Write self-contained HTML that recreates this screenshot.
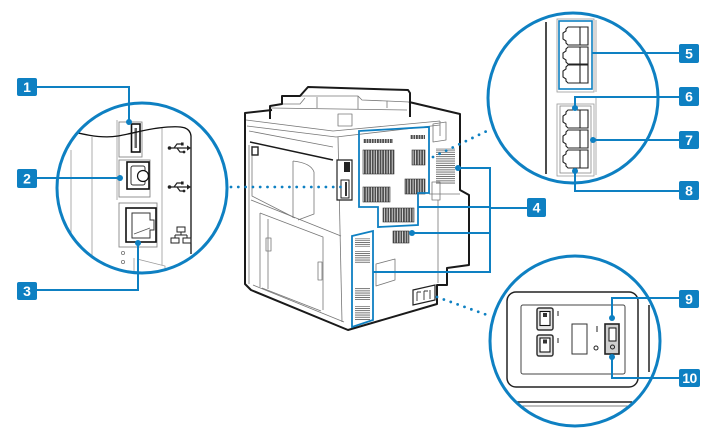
<!DOCTYPE html>
<html><head><meta charset="utf-8">
<style>
html,body{margin:0;padding:0;background:#fff;}
svg{display:block}
.lb{font-family:"Liberation Sans",sans-serif;font-size:14px;font-weight:bold;fill:#fff;text-anchor:middle;}
</style></head><body>
<svg width="711" height="438" viewBox="0 0 711 438" xmlns="http://www.w3.org/2000/svg">
<defs>
 <clipPath id="c1"><circle cx="142" cy="188" r="84"/></clipPath>
 <clipPath id="c2"><circle cx="573" cy="98" r="84"/></clipPath>
 <clipPath id="c3"><circle cx="575" cy="341" r="84"/></clipPath>
 <pattern id="vb" width="2.6" height="6" patternUnits="userSpaceOnUse"><rect width="1.9" height="6" fill="#4d4d4d"/></pattern>
 <pattern id="hb" width="6" height="2.2" patternUnits="userSpaceOnUse"><rect width="6" height="0.9" fill="#666"/></pattern>
</defs>
<rect width="711" height="438" fill="#fff"/>

<!-- ===== PRINTER ===== -->
<g fill="none" stroke="#777" stroke-width="0.8" stroke-linejoin="round">
 <path d="M246,120 L333,131 L440,121"/>
 <path d="M247,126 L336,137 L440,125"/>
 <path d="M440,121 V136"/>
 <path d="M433,124 L446,122 V140 L433,142 Z"/>
 <path d="M282,104 L300,104 L305,98"/>
 <path d="M300,96 L358,96 L362,100 L387,101 L387,108"/>
 <path d="M271,108 L407,110"/>
 <path d="M317,97 V108 M358,96 V109"/>
 <path d="M387,101 L409,102"/>
 <path d="M338,114 H352 V126 H338 Z"/>
 <path d="M249,131 L333,147"/>
 <path d="M249,145 V284"/>
 <path d="M338,137 L342,322"/>
 <path d="M252,146 V196 L295,218"/>
 <path d="M293,161 V218 M293,161 Q311,163 314,172 V214 L298,220"/>
 <path d="M251,200 L341,236"/>
 <path d="M260,213 L323,237 V310 M260,213 V287 M262,288 L321,311"/>
 <path d="M268,219 V289"/>
 <rect x="266" y="238" width="5" height="13"/>
 <rect x="318" y="262" width="4" height="18"/>
 <path d="M253,285 L344,322"/>
 <path d="M376,264 L395,259 V280 L376,286 Z"/>
 <path d="M438,200 V283"/>
 <path d="M432,182 H440 V200 H432 Z"/>
 <path d="M429,194 H460"/>
</g>
<g fill="none" stroke="#1a1a1a" stroke-width="2" stroke-linejoin="round">
 <path d="M272,110 L245,113 V284 L251,290 L348,330 L437,304 V285 H447 V268 L469,265 V195 L460,190 V114 L409,102"/>
 <path d="M270,119 V106 L282,104 V96 L300,96 L308,87 L408,90 L410,93 V117"/>
 <path d="M250,142 L333,160" stroke-width="1.5"/>
</g>
<rect x="252" y="147" width="6" height="8" fill="none" stroke="#222" stroke-width="1.4"/>
<path d="M337,160 H352 V200 H337 Z" stroke="#222" stroke-width="1.2" fill="#fff"/>
<rect x="344" y="162" width="6" height="10" fill="#222"/>
<rect x="341" y="180" width="8" height="18" stroke="#222" stroke-width="1" fill="none"/>
<rect x="345" y="182" width="2" height="14" fill="#333"/>

<!-- vents -->
<g fill="url(#vb)" stroke="#333" stroke-width="0.6">
 <rect x="363" y="150" width="31" height="24"/>
 <rect x="412" y="150" width="13" height="15"/>
 <rect x="363" y="187" width="27" height="15"/>
 <rect x="405" y="179" width="20" height="15"/>
 <rect x="383" y="208" width="31" height="14"/>
 <rect x="393" y="231" width="16" height="12"/>
</g>
<rect x="363" y="139" width="30" height="4" fill="url(#vb)"/>
<rect x="410" y="135" width="15" height="4" fill="url(#vb)"/>
<rect x="436" y="148" width="19" height="36" fill="url(#hb)"/>
<g fill="url(#hb)">
 <rect x="355" y="238" width="15" height="9"/>
 <rect x="355" y="251" width="15" height="13"/>
 <rect x="355" y="288" width="15" height="12"/>
 <rect x="355" y="306" width="15" height="15"/>
</g>
<path d="M413,290 L435,285 V300 L413,305 Z" stroke="#222" stroke-width="1.2" fill="#fff"/>
<path d="M417,292 V301 M417,292 H421 M424,291 V300 M424,291 H428 M430,290 V299" stroke="#333" stroke-width="0.9" fill="none"/>

<!-- blue outlines on printer -->
<g fill="none" stroke="#0e80c2" stroke-width="1.8">
 <path d="M359,131 L429,127 V193 H418 V225 L378,227 V207 H359 Z"/>
 <path d="M352,236 L373,231 V320 L352,327 Z"/>
</g>

<!-- dotted lines -->
<g stroke="#0e80c2" stroke-width="2.8" stroke-linecap="round" stroke-dasharray="0 7.3" fill="none">
 <path d="M231,187 H341"/>
 <path d="M433,157 L491,129"/>
 <path d="M437,297 L490,316"/>
</g>

<!-- ===== CIRCLE 1 ===== -->
<g clip-path="url(#c1)" fill="none">
 <g stroke="#999" stroke-width="0.8">
  <path d="M71,150 V245"/>
  <path d="M92,137 V258"/>
  <path d="M162,128 V265"/>
  <path d="M117,120 V200"/>
  <path d="M134,258 V280 M137,259 L165,266 V280"/>
 </g>
 <circle cx="123" cy="253" r="1.6" stroke="#777" stroke-width="0.8"/>
 <circle cx="123" cy="262" r="1.6" stroke="#777" stroke-width="0.8"/>
 <rect x="119" y="122" width="23" height="35" stroke="#888" stroke-width="0.9" fill="#fff"/>
 <rect x="131.5" y="124" width="8.5" height="28" stroke="#111" stroke-width="1.6" fill="#fff"/>
 <rect x="134.5" y="128" width="2.5" height="20" fill="#666"/>
 <rect x="119" y="160" width="31" height="37" stroke="#888" stroke-width="0.9" fill="#fff"/>
 <rect x="127" y="162" width="22" height="27" stroke="#111" stroke-width="1.6" fill="#fff"/>
 <rect x="131" y="166" width="14" height="19" rx="2" stroke="#333" stroke-width="1"/>
 <circle cx="143" cy="176" r="5.5" stroke="#111" stroke-width="1.2" fill="#fff"/>
 <rect x="119" y="203" width="38" height="44" stroke="#888" stroke-width="0.9" fill="#fff"/>
 <rect x="126" y="208" width="30" height="34" stroke="#111" stroke-width="1.6" fill="#fff"/>
 <path d="M132,213 H150 V220 H154 V230 H150 V238 H132 Z" stroke="#333" stroke-width="1"/>
 <path d="M134,234 L150,228" stroke="#555" stroke-width="0.8"/>
 <path d="M55,127 C80,134 100,139 118,136 C135,133 150,128 168,127 C182,126 190,127 191,136 V254" stroke="#111" stroke-width="1.3"/>
 <!-- USB icons -->
 <g transform="translate(168,148)" stroke="#222" stroke-width="1.2">
  <path d="M1,0 H20 M6,0 L9,-4 H13 M9,0 L12,4 H15"/>
  <circle cx="1.5" cy="0" r="1.8" fill="#222" stroke="none"/>
  <rect x="13" y="-5.5" width="2.6" height="3" fill="#222" stroke="none"/>
  <circle cx="16" cy="4" r="1.4" fill="#222" stroke="none"/>
  <polygon points="19,-2.6 23,0 19,2.6" fill="#222" stroke="none"/>
 </g>
 <g transform="translate(168,187)" stroke="#222" stroke-width="1.2">
  <path d="M1,0 H20 M6,0 L9,-4 H13 M9,0 L12,4 H15"/>
  <circle cx="1.5" cy="0" r="1.8" fill="#222" stroke="none"/>
  <rect x="13" y="-5.5" width="2.6" height="3" fill="#222" stroke="none"/>
  <circle cx="16" cy="4" r="1.4" fill="#222" stroke="none"/>
  <polygon points="19,-2.6 23,0 19,2.6" fill="#222" stroke="none"/>
 </g>
 <g transform="translate(171,227)" stroke="#222" stroke-width="1">
  <rect x="6" y="0" width="8" height="5"/>
  <rect x="0" y="11" width="8" height="5"/>
  <rect x="12" y="11" width="8" height="5"/>
  <path d="M10,5 V8 M4,8 H16 M4,8 V11 M16,8 V11"/>
 </g>
</g>

<!-- ===== CIRCLE 2 ===== -->
<g clip-path="url(#c2)" fill="none">
 <path d="M546,22 V174" stroke="#111" stroke-width="1.5"/>
 <path d="M596,20 V92 M596,98 V175" stroke="#999" stroke-width="0.8"/>
 <rect x="557" y="19" width="37" height="73" stroke="#999" stroke-width="0.8"/>
 <rect x="559" y="21" width="33" height="68" stroke="#0e80c2" stroke-width="1.6"/>
 <rect x="557" y="104" width="37" height="72" stroke="#999" stroke-width="0.8"/>
 <rect x="560" y="106" width="31" height="67" stroke="#888" stroke-width="0.8"/>
 <g stroke="#222" stroke-width="1.1">
  <path d="M568,27 H588 V45 H568 L566,43 V41 L563,39 V33 L566,31 V29 Z M580,27 V45"/>
  <path d="M568,47 H588 V64 H568 L566,62 V60 L563,58 V53 L566,51 V49 Z M580,47 V64"/>
  <path d="M568,65 H588 V83 H568 L566,81 V79 L563,77 V71 L566,69 V67 Z M580,65 V83"/>
  <path d="M568,110 H588 V128 H568 L566,126 V124 L563,122 V116 L566,114 V112 Z M580,110 V128"/>
  <path d="M568,130 H588 V148 H568 L566,146 V144 L563,142 V136 L566,134 V132 Z M580,130 V148"/>
  <path d="M568,150 H588 V168 H568 L566,166 V164 L563,162 V156 L566,154 V152 Z M580,150 V168"/>
 </g>
</g>

<!-- ===== CIRCLE 3 ===== -->
<g clip-path="url(#c3)" fill="none">
 <rect x="507" y="292" width="131" height="95" rx="9" stroke="#222" stroke-width="1.5"/>
 <rect x="521" y="305" width="104" height="69" rx="2" stroke="#444" stroke-width="1"/>
 <rect x="537" y="308" width="16" height="22" rx="2" stroke="#333" stroke-width="1.5" fill="#e6e6e6"/>
 <rect x="540" y="311.5" width="10" height="14" stroke="#111" stroke-width="1.1" fill="#fff"/>
 <rect x="543" y="313" width="4" height="4" fill="#333"/>
 <rect x="537" y="335" width="16" height="21" rx="2" stroke="#333" stroke-width="1.5" fill="#e6e6e6"/>
 <rect x="540" y="338" width="10" height="14" stroke="#111" stroke-width="1.1" fill="#fff"/>
 <rect x="543" y="339.5" width="4" height="4" fill="#333"/>
 <path d="M558,311 V316 M558,338 V343 M597,326 V332" stroke="#222" stroke-width="1"/>
 <circle cx="596" cy="348" r="2" stroke="#222" stroke-width="1"/>
 <rect x="572" y="324" width="15" height="30" stroke="#333" stroke-width="1"/>
 <rect x="605" y="324" width="14" height="30" stroke="#222" stroke-width="1.6" fill="#cfcfcf"/>
 <rect x="609" y="328" width="7" height="13" stroke="#111" stroke-width="1" fill="#fff"/>
 <circle cx="612.5" cy="347" r="2" stroke="#222" stroke-width="1"/>
 <path d="M638,300 V380" stroke="#222" stroke-width="1"/>
 <path d="M649,305 V372" stroke="#222" stroke-width="1.5"/>
 <path d="M505,402 H632" stroke="#222" stroke-width="1.5"/>
 <path d="M508,406 H630" stroke="#555" stroke-width="0.8"/>
</g>

<!-- circle outlines -->
<g fill="none" stroke="#0e80c2" stroke-width="3">
 <circle cx="142" cy="188" r="85"/>
 <circle cx="573" cy="98" r="85"/>
 <circle cx="575" cy="341" r="85"/>
</g>

<!-- callout lines -->
<g fill="none" stroke="#0e80c2" stroke-width="2">
 <path d="M37,87 H129 V122"/>
 <path d="M37,178 H120"/>
 <path d="M37,290 H138 V243"/>
 <path d="M679,53 H592"/>
 <path d="M679,97 H575 V108"/>
 <path d="M679,140 H593"/>
 <path d="M679,191 H575 V171"/>
 <path d="M527,208 H490"/>
 <path d="M458,168 H490 V272 H373 M418,207 H490 M412,233 H490"/>
 <path d="M679,298 H612 V318"/>
 <path d="M679,378 H612 V357"/>
</g>
<g fill="#0e80c2">
 <circle cx="129" cy="122" r="3"/>
 <circle cx="120" cy="178" r="3"/>
 <circle cx="138" cy="243" r="3"/>
 <circle cx="575" cy="108" r="3"/>
 <circle cx="593" cy="140" r="3"/>
 <circle cx="575" cy="171" r="3"/>
 <circle cx="458" cy="168" r="3"/>
 <circle cx="412" cy="233" r="3"/>
 <circle cx="612" cy="318" r="3"/>
 <circle cx="612" cy="357" r="3"/>
</g>

<!-- label boxes -->
<g fill="#0e80c2">
 <rect x="17" y="78" width="20" height="18" rx="2"/>
 <rect x="17" y="169" width="20" height="19" rx="2"/>
 <rect x="17" y="282" width="20" height="18" rx="2"/>
 <rect x="527" y="198" width="19" height="19" rx="2"/>
 <rect x="679" y="44" width="20" height="19" rx="2"/>
 <rect x="679" y="87" width="20" height="19" rx="2"/>
 <rect x="679" y="131" width="20" height="18" rx="2"/>
 <rect x="679" y="181" width="20" height="19" rx="2"/>
 <rect x="679" y="290" width="20" height="18" rx="2"/>
 <rect x="679" y="369" width="21" height="18" rx="2"/>
</g>
<text class="lb" x="27" y="92">1</text>
<text class="lb" x="27" y="183.5">2</text>
<text class="lb" x="27" y="296">3</text>
<text class="lb" x="536.5" y="212.5">4</text>
<text class="lb" x="689" y="58.5">5</text>
<text class="lb" x="689" y="101.5">6</text>
<text class="lb" x="689" y="145">7</text>
<text class="lb" x="689" y="195.5">8</text>
<text class="lb" x="689" y="304">9</text>
<text class="lb" x="689.5" y="383" style="letter-spacing:-0.5px">10</text>
</svg>
</body></html>
